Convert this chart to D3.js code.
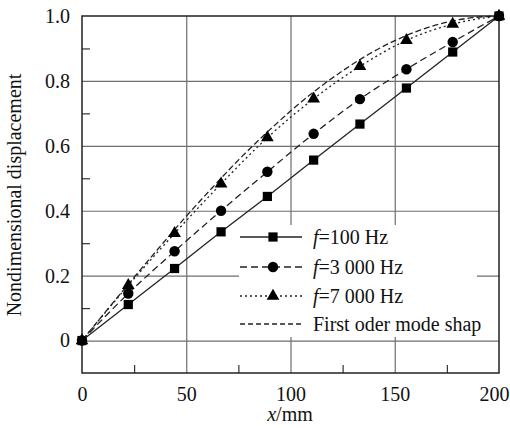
<!DOCTYPE html>
<html>
<head>
<meta charset="utf-8">
<script src="https://cdn.jsdelivr.net/npm/d3@7"></script>
<style>
  body { margin: 0; background: #fff; }
</style>
</head>
<body>
<div class="container"></div>
<script>
const width = 510;
const height = 428;
const margin = {left: 82, top: 16};

// positions along the beam, mm
const xs = [0, 22.2, 44.4, 66.7, 88.9, 111.1, 133.3, 155.6, 177.8, 200];
const f100 = [0, 0.111, 0.222, 0.335, 0.444, 0.556, 0.667, 0.778, 0.889, 1.0];
const f3000 = [0, 0.145, 0.275, 0.40, 0.52, 0.637, 0.744, 0.836, 0.92, 1.0];
const f7000 = [0, 0.17, 0.33, 0.483, 0.625, 0.745, 0.845, 0.925, 0.975, 1.0];
// first order mode shape
const modeX = [0, 12.5, 25, 37.5, 50, 62.5, 75, 87.5, 100, 112.5, 125, 137.5, 150, 162.5, 175, 187.5, 200];
const modeY = [0, 0.098, 0.195, 0.29, 0.383, 0.471, 0.556, 0.634, 0.707, 0.773, 0.831, 0.882, 0.924, 0.957, 0.981, 0.995, 1.0];

const xTicks = [0, 50, 100, 150, 200];
const xMinor = [25, 75, 125, 175];
const yTicks = [0, 0.2, 0.4, 0.6, 0.8, 1.0];
const yMinor = [0.1, 0.3, 0.5, 0.7, 0.9];

const legendLabels = ['=100 Hz', '=3 000 Hz', '=7 000 Hz', 'First oder mode shap'];

var svg = d3.select('.container')
    .append('svg')
    .attr('width', width)
    .attr('height', height);

var g = svg.append('g')
    .attr('transform', `translate(${margin.left}, ${margin.top})`);

var x = d3.scaleLinear().domain([0, 200]).range([0, 417]);
var y = d3.scaleLinear().domain([-0.1, 1.0]).range([357, 0]);

// grid lines
g.append('g')
    .attr('class', 'grid')
    .call(d3.axisLeft(y).tickValues([0, 0.2, 0.4, 0.6, 0.8]).tickSize(-417).tickFormat(''))
    .call(s => s.select('.domain').remove());
g.append('g')
    .attr('class', 'grid')
    .attr('transform', 'translate(0, 357)')
    .call(d3.axisBottom(x).tickValues([50, 100, 150]).tickSize(-357).tickFormat(''))
    .call(s => s.select('.domain').remove());
g.selectAll('.grid line')
    .attr('stroke', '#6e6e6e')
    .attr('stroke-width', 1.2);

// minor ticks
g.append('g')
    .call(d3.axisLeft(y).tickValues(yMinor).tickSize(-8).tickFormat(''))
    .call(s => s.select('.domain').remove())
    .selectAll('line').attr('stroke', '#333').attr('stroke-width', 1.2);
g.append('g')
    .attr('transform', 'translate(0, 357)')
    .call(d3.axisBottom(x).tickValues(xMinor).tickSize(-8).tickFormat(''))
    .call(s => s.select('.domain').remove())
    .selectAll('line').attr('stroke', '#333').attr('stroke-width', 1.2);

// tick labels
g.append('g')
    .call(d3.axisLeft(y).tickValues(yTicks).tickSize(0).tickPadding(12)
        .tickFormat(d => d == 0 ? '0' : d3.format('.1f')(d)))
    .call(s => s.select('.domain').remove());
g.append('g')
    .attr('class', 'xlabels')
    .attr('transform', 'translate(0, 357)')
    .call(d3.axisBottom(x).tickValues(xTicks).tickSize(0).tickPadding(14))
    .call(s => s.select('.domain').remove());
g.selectAll('.xlabels text')
    .attr('text-anchor', d => d == 200 ? 'end' : 'middle')
    .attr('dx', d => d == 200 ? 10 : 0);

// frame
g.append('rect')
    .attr('width', 417)
    .attr('height', 357)
    .attr('fill', 'none')
    .attr('stroke', '#222')
    .attr('stroke-width', 1.5);

// legend background hides the grid
var lg = g.append('g').attr('transform', 'translate(157, 209)');
lg.append('rect')
    .attr('width', 238)
    .attr('height', 112)
    .attr('fill', '#fff');

// curves
var line = d3.line()
    .x(d => x(d[0]))
    .y(d => y(d[1]))
    .curve(d3.curveMonotoneX);

var series = [
    {vals: f100, dash: null, shape: d3.symbolSquare, size: 85},
    {vals: f3000, dash: '7,4', shape: d3.symbolCircle, size: 85},
    {vals: f7000, dash: '2,3', shape: d3.symbolTriangle, size: 70}
];

g.append('path')
    .datum(modeX.map((d, i) => [d, modeY[i]]))
    .attr('d', line)
    .attr('fill', 'none')
    .attr('stroke', '#222')
    .attr('stroke-width', 1.3)
    .attr('stroke-dasharray', '6,3');

series.forEach(s => {
    var pts = xs.map((d, i) => [d, s.vals[i]]);
    g.append('path')
        .datum(pts)
        .attr('d', line)
        .attr('fill', 'none')
        .attr('stroke', '#222')
        .attr('stroke-width', 1.3)
        .attr('stroke-dasharray', s.dash);
    g.selectAll(null)
        .data(pts)
        .enter()
        .append('path')
        .attr('d', d3.symbol().type(s.shape).size(s.size))
        .attr('transform', d => `translate(${x(d[0])}, ${y(d[1])})`)
        .attr('fill', '#000');
});

// legend entries
var rowY = [12, 42, 71, 99];
var legDash = [null, '7,4', '2,3', '5,3'];
legendLabels.forEach((lab, i) => {
    lg.append('line')
        .attr('x1', 1).attr('x2', 63)
        .attr('y1', rowY[i]).attr('y2', rowY[i])
        .attr('stroke', '#222')
        .attr('stroke-width', 1.3)
        .attr('stroke-dasharray', legDash[i]);
    if (i < 3) {
        lg.append('path')
            .attr('d', d3.symbol().type(series[i].shape).size(series[i].size))
            .attr('transform', `translate(34, ${rowY[i]})`)
            .attr('fill', '#000');
    }
    var t = lg.append('text')
        .attr('x', 74)
        .attr('y', rowY[i] + 7);
    if (i < 3) {
        t.append('tspan').style('font-style', 'italic').text('f');
    }
    t.append('tspan').text(lab);
});

// axis titles
var xt = svg.append('text')
    .attr('x', 290)
    .attr('y', 421)
    .attr('text-anchor', 'middle');
xt.append('tspan').style('font-style', 'italic').text('x');
xt.append('tspan').text('/mm');

svg.append('text')
    .attr('transform', 'rotate(-90)')
    .attr('x', -195)
    .attr('y', 21)
    .attr('text-anchor', 'middle')
    .text('Nondimensional displacement');

// all text in Times-like serif
svg.selectAll('text')
    .style('font-family', '"Liberation Serif"')
    .style('font-size', '20px')
    .style('fill', '#111');
</script>
</body>
</html>
